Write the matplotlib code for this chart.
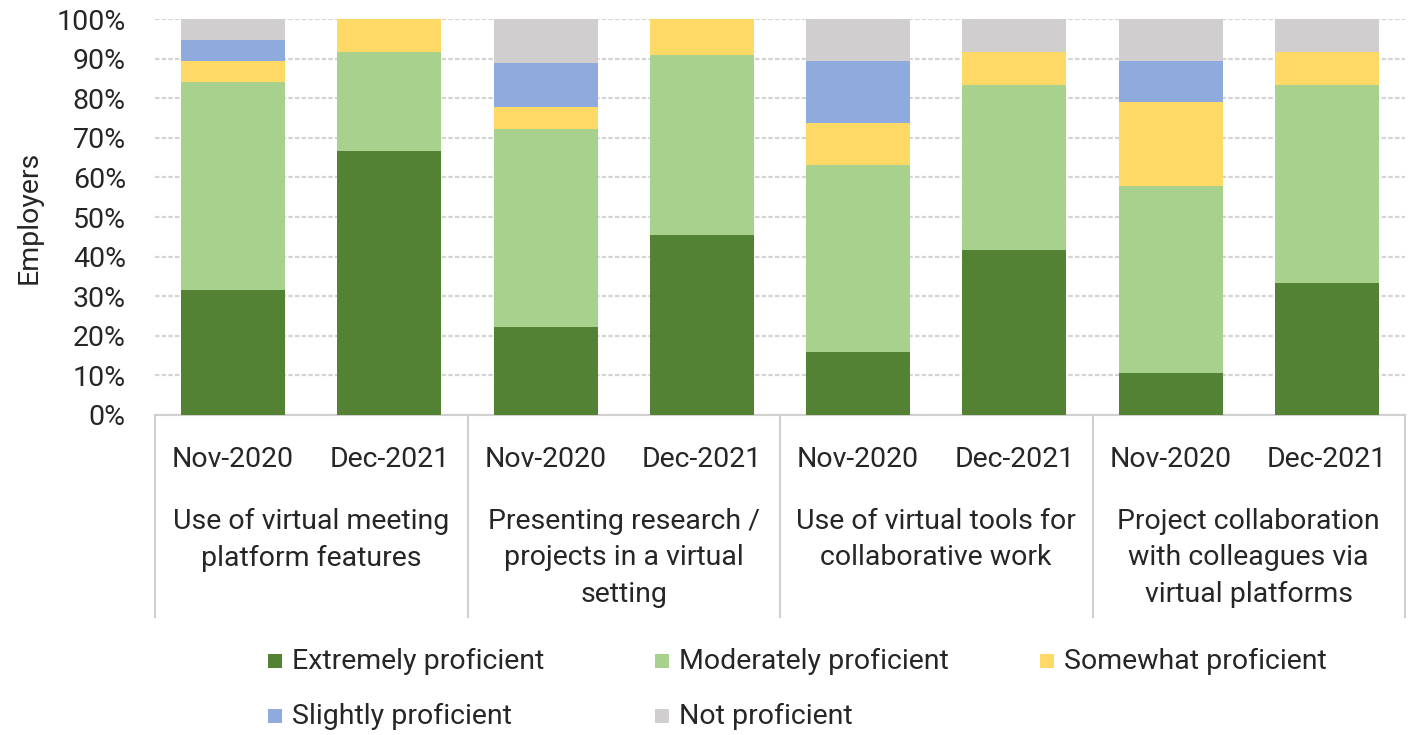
import matplotlib
matplotlib.use("Agg")
import matplotlib.pyplot as plt
from matplotlib.patches import Rectangle
import numpy as np

plt.rcParams['font.family'] = ['Roboto', 'DejaVu Sans']

periods = ["Nov-2020", "Dec-2021"] * 4
groups = ["Use of virtual meeting\nplatform features",
          "Presenting research /\nprojects in a virtual\nsetting",
          "Use of virtual tools for\ncollaborative work",
          "Project collaboration\nwith colleagues via\nvirtual platforms"]
series_names = ["Extremely proficient", "Moderately proficient", "Somewhat proficient",
                "Slightly proficient", "Not proficient"]
extremely = [31.6, 66.7, 22.2, 45.5, 15.8, 41.7, 10.5, 33.3]
moderately = [52.6, 25.0, 50.0, 45.5, 47.4, 41.7, 47.4, 50.0]
somewhat = [5.3, 8.3, 5.6, 9.1, 10.5, 8.3, 21.1, 8.3]
slightly = [5.3, 0.0, 11.1, 0.0, 15.8, 0.0, 10.5, 0.0]
not_prof = [5.3, 0.0, 11.1, 0.0, 10.5, 8.3, 10.5, 8.3]
colors = ["#548235", "#A9D18E", "#FFD966", "#8FAADC", "#D0CECE"]

W, H = 1408, 735
fig = plt.figure(figsize=(W / 100, H / 100), dpi=100)
ax = fig.add_axes([155 / W, 1 - 415 / H, 1250 / W, 396 / H])

txt = "#262626"
fs = 20.5
x = np.arange(len(periods))
bottom = np.zeros(len(periods))
for vals, c in zip([extremely, moderately, somewhat, slightly, not_prof], colors):
    v = np.array(vals)
    ax.bar(x, v, 0.667, bottom=bottom, color=c, zorder=3)
    bottom += v

ax.set_xlim(-0.5, len(periods) - 0.5)
ax.set_ylim(0, 100)
ax.set_yticks(np.arange(0, 101, 10))
ax.set_yticklabels([f"{t}%" for t in range(0, 101, 10)], fontsize=fs, color=txt)
ax.tick_params(axis='y', length=0, pad=21)
ax.set_xticks([])
for s in ax.spines.values():
    s.set_visible(False)
ax.yaxis.grid(True, color="#d4d4d4", linewidth=1.6, linestyle=(0, (2, 1)), zorder=0)
ax.set_axisbelow(True)
ax.set_ylabel("Employers", fontsize=fs, color=txt, labelpad=10)

tr = ax.get_xaxis_transform()
sep_bottom = (415 - 617) / 396
ax.plot([-0.5, len(periods) - 0.5], [0, 0], transform=tr, color="#d0d0d0", lw=1.5, clip_on=False)
for b in np.arange(-0.5, len(periods), 2):
    ax.plot([b, b], [0, sep_bottom], transform=tr, color="#d0d0d0", lw=1.5, clip_on=False)

for i, p in enumerate(periods):
    ax.text(i, (415 - 460) / 396, p, transform=tr, ha='center', va='center', fontsize=fs, color=txt)
for g, name in enumerate(groups):
    ax.text(2 * g + 0.5, (415 - 508) / 396, name, transform=tr, ha='center', va='top',
            fontsize=fs, color=txt, linespacing=1.45)

# legend
leg_pos = [(268, 661), (655, 661), (1040, 661), (268, 716), (655, 716)]
for (lx, ly), name, c in zip(leg_pos, series_names, colors):
    fig.patches.append(Rectangle((lx / W, 1 - (ly + 7) / H), 14 / W, 14 / H,
                                 transform=fig.transFigure, facecolor=c, edgecolor='none'))
    fig.text((lx + 24) / W, 1 - ly / H, name, ha='left', va='center', fontsize=fs, color=txt)

fig.savefig("out.png", dpi=100)
